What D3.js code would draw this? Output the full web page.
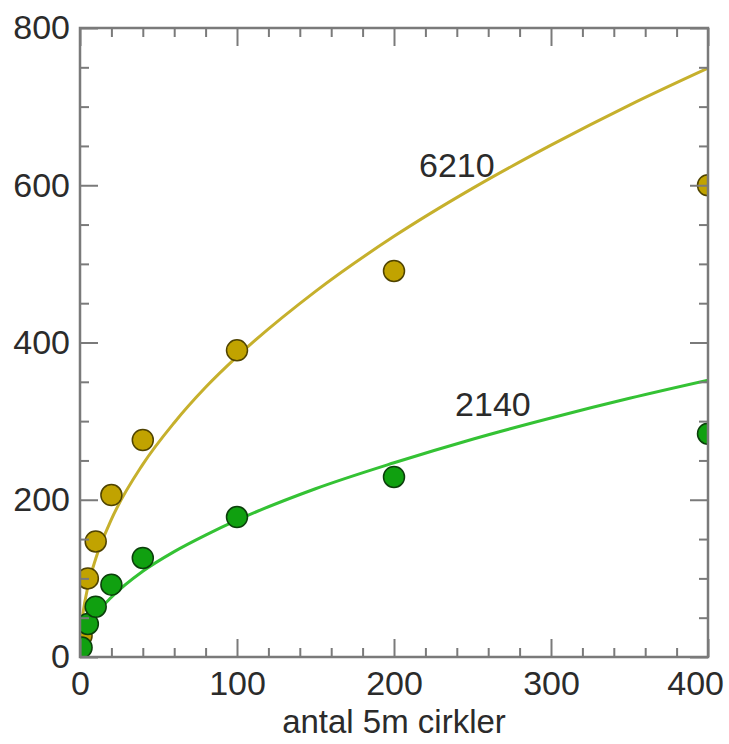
<!DOCTYPE html>
<html>
<head>
<meta charset="utf-8">
<script src="https://cdn.jsdelivr.net/npm/d3@7"></script>
<style>
  html, body { margin: 0; padding: 0; background: #fff; }
  svg { display: block; font-family: "Liberation Sans", Arial, sans-serif; }
</style>
</head>
<body>
<svg id="chart" width="729" height="744"></svg>
<script>
// Axis ticks
const xTicks = [0, 100, 200, 300, 400];
const yTicks = [0, 200, 400, 600, 800];
const xMinor = [20, 40, 60, 80, 120, 140, 160, 180, 220, 240, 260, 280, 320, 340, 360, 380];
const yMinor = [50, 100, 150, 250, 300, 350, 450, 500, 550, 650, 700, 750];

// Observed species counts per number of 5 m circles
const nCircles = [1, 5, 10, 20, 40, 100, 200, 400];
const speciesGold = [27, 100, 147, 206, 276, 390, 491, 600];
const speciesGreen = [12, 42, 64, 92, 126, 178, 229, 284];

// Fitted accumulation curves
const fitX = [0, 1, 2, 5, 10, 20, 40, 60, 80, 100, 150, 200, 250, 300, 350, 400];
const fitGold = [0, 41, 57, 89, 125, 175, 245, 298, 343, 382, 465, 535, 596, 651, 702, 749];
const fitGreen = [0, 17, 24, 38, 54, 76, 109, 134, 155, 174, 214, 247, 277, 304, 329, 352];

// Curve labels
const curveLabels = ["6210", "2140"];
const labelPos = [[240, 626], [263, 322]];

const W = 729, H = 744;
const m = { left: 80, right: 21, top: 28, bottom: 87 };
const iw = W - m.left - m.right, ih = H - m.top - m.bottom;

const svg = d3.select("#chart");
const g = svg.append("g").attr("transform", `translate(${m.left},${m.top})`);

const x = d3.scaleLinear().domain([0, 400]).range([0, iw]);
const y = d3.scaleLinear().domain([0, 800]).range([ih, 0]);

g.append("clipPath").attr("id", "plot-clip")
  .append("rect").attr("width", iw).attr("height", ih);

const plot = g.append("g").attr("clip-path", "url(#plot-clip)");

const line = d3.line().x(d => x(d[0])).y(d => y(d[1])).curve(d3.curveMonotoneX);

const series = [
  { fit: fitGold, obs: speciesGold, line: "#c6b02c", fill: "#c1a300", stroke: "#4f4300", label: curveLabels[0], pos: labelPos[0] },
  { fit: fitGreen, obs: speciesGreen, line: "#34c234", fill: "#10a010", stroke: "#0b3f0b", label: curveLabels[1], pos: labelPos[1] }
];

series.forEach(s => {
  plot.append("path")
    .datum(fitX.map((v, i) => [v, s.fit[i]]))
    .attr("fill", "none")
    .attr("stroke", s.line)
    .attr("stroke-width", 3)
    .attr("d", line);
});

series.forEach(s => {
  plot.selectAll(null)
    .data(nCircles.map((v, i) => [v, s.obs[i]]))
    .join("circle")
    .attr("cx", d => x(d[0]))
    .attr("cy", d => y(d[1]))
    .attr("r", 10.5)
    .attr("fill", s.fill)
    .attr("stroke", s.stroke)
    .attr("stroke-width", 1.5);
});

// Ticks point inward on all four sides
const tickColor = "#7a7a7a";
function styleAxis(sel) {
  sel.select(".domain").remove();
  sel.selectAll(".tick line").attr("stroke", tickColor).attr("stroke-width", 2);
  sel.selectAll("text").attr("fill", "#2b2b2b").attr("font-size", 34);
}

const axes = [
  [() => d3.axisBottom(x), `translate(0,${ih})`, xTicks, xMinor, true],
  [() => d3.axisTop(x), `translate(0,0)`, xTicks, xMinor, false],
  [() => d3.axisLeft(y), `translate(0,0)`, yTicks, yMinor, true],
  [() => d3.axisRight(y), `translate(${iw},0)`, yTicks, yMinor, false]
];
axes.forEach(([make, tr, major, minor, showLabels]) => {
  g.append("g").attr("transform", tr)
    .call(make().tickValues(minor).tickSize(-9).tickFormat(""))
    .call(styleAxis);
  g.append("g").attr("transform", tr).attr("class", showLabels ? "labelled" : null)
    .call(make().tickValues(major).tickSize(-18).tickPadding(showLabels ? 14 : 0)
      .tickFormat(showLabels ? d3.format("d") : ""))
    .call(styleAxis);
});

g.selectAll(".labelled text").each(function () {
  const t = d3.select(this);
  if (t.attr("dy") === "0.71em") t.attr("y", 14);
  else t.attr("x", -10);
});

// keep the rightmost x label inside the page
g.selectAll(".labelled text").each(function () {
  const b = this.getBBox();
  const ctm = this.getCTM();
  const right = ctm.e + b.x + b.width;
  if (right > W - 5) d3.select(this).attr("dx", (W - 5) - right);
});

// Frame
g.append("rect")
  .attr("width", iw).attr("height", ih)
  .attr("fill", "none")
  .attr("stroke", tickColor)
  .attr("stroke-width", 2.5);

// Curve labels
series.forEach(s => {
  g.append("text")
    .attr("x", x(s.pos[0]))
    .attr("y", y(s.pos[1]))
    .attr("text-anchor", "middle")
    .attr("dy", "0.35em")
    .attr("font-size", 34)
    .attr("fill", "#2b2b2b")
    .text(s.label);
});

// Axis title
svg.append("text")
  .attr("x", m.left + x(200))
  .attr("y", 733)
  .attr("text-anchor", "middle")
  .attr("font-size", 33)
  .attr("fill", "#2b2b2b")
  .text("antal 5m cirkler");
</script>
</body>
</html>
